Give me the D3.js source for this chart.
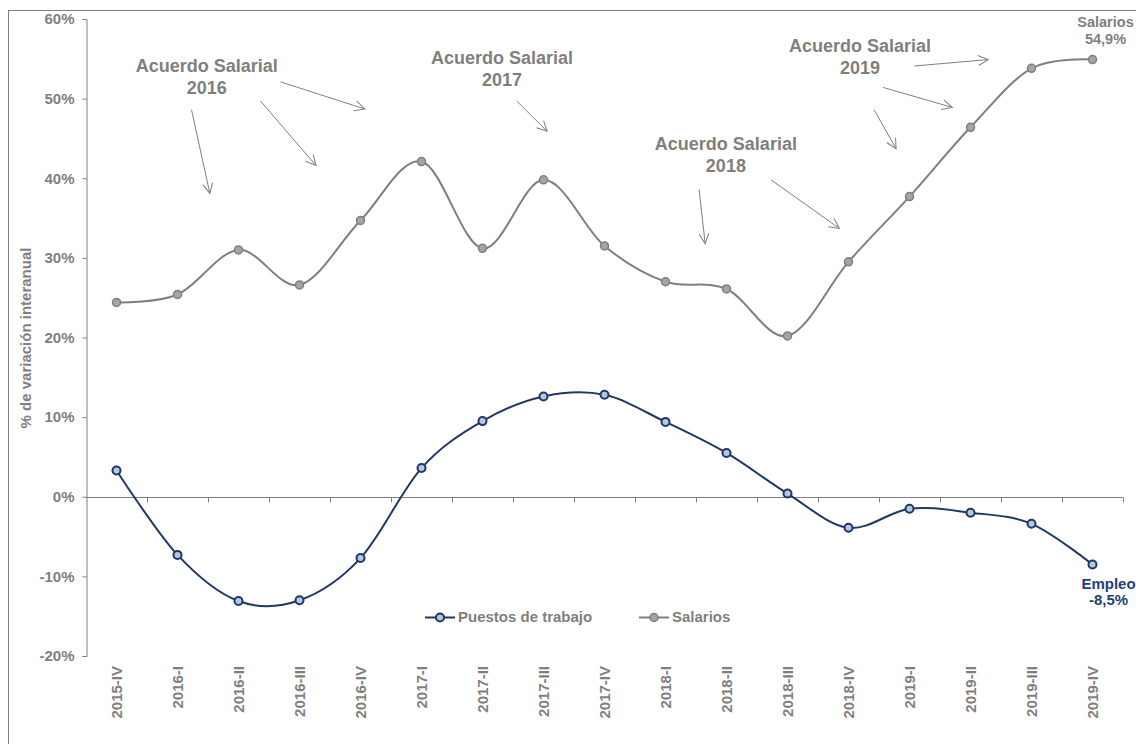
<!DOCTYPE html>
<html>
<head>
<meta charset="utf-8">
<script src="https://cdn.jsdelivr.net/npm/d3@7"></script>
<style>
  html, body { margin: 0; padding: 0; background: #fff; }
  svg { display: block; font-family: "Liberation Sans", Arial, sans-serif; }
</style>
</head>
<body>
<svg id="chart" width="1136" height="744"></svg>
<script>
// Quarters
const quarters = ["2015-IV","2016-I","2016-II","2016-III","2016-IV","2017-I","2017-II","2017-III",
  "2017-IV","2018-I","2018-II","2018-III","2018-IV","2019-I","2019-II","2019-III","2019-IV"];

// Year-on-year change (%)
const puestos = [3.3, -7.3, -13.1, -13.0, -7.7, 3.6, 9.5, 12.6, 12.8, 9.4, 5.5, 0.4, -3.9, -1.5, -2.0, -3.4, -8.5];
const salarios = [24.4, 25.4, 31.0, 26.6, 34.7, 42.1, 31.2, 39.8, 31.5, 27.0, 26.1, 20.2, 29.5, 37.7, 46.4, 53.8, 54.9];

const yTicks = [-20, -10, 0, 10, 20, 30, 40, 50, 60];

// Wage-agreement callouts: label anchor and arrows, in (quarter index, %) units
const acuerdos = [
  { label: ["Acuerdo Salarial", "2016"], at: [1.48, 53.3],
    arrows: [[[1.23, 48.6], [1.53, 38.1]], [[2.36, 49.7], [3.27, 41.6]], [[2.69, 52.1], [4.07, 48.7]]] },
  { label: ["Acuerdo Salarial", "2017"], at: [6.32, 54.3],
    arrows: [[[6.56, 49.7], [7.06, 45.9]]] },
  { label: ["Acuerdo Salarial", "2018"], at: [9.99, 43.6],
    arrows: [[[9.55, 38.6], [9.65, 31.8]], [[10.73, 39.8], [11.85, 33.7]]] },
  { label: ["Acuerdo Salarial", "2019"], at: [12.19, 55.8],
    arrows: [[[13.08, 54.1], [14.29, 54.9]], [[12.57, 51.4], [13.70, 48.9]], [[12.42, 48.6], [12.78, 43.7]]] }
];

const GRAY = "#7f7f7f";
const NAVY = "#1f3864";

const svg = d3.select("#chart");

// frame
svg.append("rect").attr("x", 8.5).attr("y", 10.5).attr("width", 1140).attr("height", 760)
  .attr("fill", "none").attr("stroke", GRAY).attr("stroke-width", 1);

const x = d3.scaleBand().domain(quarters).range([86, 1123]).padding(0);
const cx = q => x(q) + x.bandwidth() / 2;
const xi = d3.scaleLinear().domain([0, quarters.length - 1]).range([cx(quarters[0]), cx(quarters[quarters.length - 1])]);
const y = d3.scaleLinear().domain([-20, 60]).range([656, 19]);

// y axis
const yAxis = svg.append("g").attr("transform", "translate(86.5,0)")
  .call(d3.axisLeft(y).tickValues(yTicks).tickSize(4).tickPadding(8).tickFormat(d => d + "%"));
yAxis.select(".domain").attr("stroke", GRAY);
yAxis.selectAll(".tick line").attr("stroke", GRAY);
yAxis.selectAll("text").attr("fill", GRAY).attr("font-size", 15).attr("font-weight", "bold")
  .attr("font-family", "Liberation Sans, Arial, sans-serif");

// y title
svg.append("text")
  .attr("transform", "translate(31,338) rotate(-90)")
  .attr("text-anchor", "middle")
  .attr("fill", GRAY).attr("font-size", 15).attr("font-weight", "bold")
  .text("% de variación interanual");

// zero line with category ticks
const y0 = Math.round(y(0)) + 0.5;
svg.append("line").attr("x1", 86).attr("x2", 1123).attr("y1", y0).attr("y2", y0)
  .attr("stroke", GRAY).attr("stroke-width", 1);
const bounds = quarters.map(q => x(q)).concat([x.range()[1]]);
svg.append("g").selectAll("line").data(bounds.slice(1)).join("line")
  .attr("x1", d => Math.round(d) + 0.5).attr("x2", d => Math.round(d) + 0.5)
  .attr("y1", y0).attr("y2", y0 + 5).attr("stroke", GRAY);

// category labels
svg.append("g").selectAll("text").data(quarters).join("text")
  .attr("transform", d => `translate(${cx(d)},666) rotate(-90)`)
  .attr("text-anchor", "end").attr("dy", "0.35em")
  .attr("fill", GRAY).attr("font-size", 15).attr("font-weight", "bold")
  .text(d => d);

// arrowhead
svg.append("defs").append("marker")
  .attr("id", "arrow").attr("markerUnits", "userSpaceOnUse")
  .attr("viewBox", "0 0 12 12").attr("refX", 11).attr("refY", 6)
  .attr("markerWidth", 12).attr("markerHeight", 12).attr("orient", "auto")
  .append("path").attr("d", "M1,1 L11,6 L1,11").attr("fill", "none")
  .attr("stroke", GRAY).attr("stroke-width", 1);

// callouts
const ann = svg.append("g");
acuerdos.forEach(a => {
  const t = ann.append("text")
    .attr("x", xi(a.at[0])).attr("y", y(a.at[1]))
    .attr("text-anchor", "middle").attr("fill", GRAY)
    .attr("font-size", 18).attr("font-weight", "bold");
  a.label.forEach((s, i) => t.append("tspan").attr("x", xi(a.at[0])).attr("dy", i ? 22 : 0).text(s));
  a.arrows.forEach(([p, q]) => {
    ann.append("line")
      .attr("x1", xi(p[0])).attr("y1", y(p[1])).attr("x2", xi(q[0])).attr("y2", y(q[1]))
      .attr("stroke", GRAY).attr("stroke-width", 1).attr("marker-end", "url(#arrow)");
  });
});

// series
const series = [
  { name: "Puestos de trabajo", values: puestos, stroke: NAVY, fill: "#b4c7e7", mw: 2 },
  { name: "Salarios", values: salarios, stroke: GRAY, fill: "#a5a5a5", mw: 1.5 }
];
const line = d3.line().x((d, i) => cx(quarters[i])).y(d => y(d)).curve(d3.curveCardinal.tension(0));

series.forEach(s => {
  const g = svg.append("g");
  g.append("path").attr("d", line(s.values)).attr("fill", "none")
    .attr("stroke", s.stroke).attr("stroke-width", 2);
  g.selectAll("circle").data(s.values).join("circle")
    .attr("cx", (d, i) => cx(quarters[i])).attr("cy", d => y(d)).attr("r", 4)
    .attr("fill", s.fill).attr("stroke", s.stroke).attr("stroke-width", s.mw);
});

// end labels (decimal comma, plain hyphen for negatives)
const fmt = v => (v < 0 ? "-" : "") + d3.format(".1f")(Math.abs(v)).replace(".", ",") + "%";
const last = quarters.length - 1;
const endLabel = (lines, px, py, color, size, gap) => {
  const t = svg.append("text").attr("text-anchor", "middle").attr("fill", color)
    .attr("font-size", size).attr("font-weight", "bold");
  lines.forEach((s, i) => t.append("tspan").attr("x", px).attr("y", py + i * gap).text(s));
};
endLabel(["Salarios", fmt(salarios[last])], cx(quarters[last]) + 13, y(salarios[last]) - 33, GRAY, 14.5, 17);
endLabel(["Empleo", fmt(puestos[last])], cx(quarters[last]) + 16, y(puestos[last]) + 25, "#23407a", 15, 16);

// legend
const legend = svg.append("g").attr("transform", "translate(0,617)");
const legItems = [{ s: series[0], x0: 425 }, { s: series[1], x0: 639 }];
legItems.forEach(({ s, x0 }) => {
  legend.append("line").attr("x1", x0).attr("x2", x0 + 30).attr("y1", 0.5).attr("y2", 0.5)
    .attr("stroke", s.stroke).attr("stroke-width", 2);
  legend.append("circle").attr("cx", x0 + 15).attr("cy", 0.5).attr("r", 4)
    .attr("fill", s.fill).attr("stroke", s.stroke).attr("stroke-width", s.mw);
  legend.append("text").attr("x", x0 + 33).attr("y", 0).attr("dy", "0.35em")
    .attr("fill", GRAY).attr("font-size", 15).attr("font-weight", "bold").text(s.name);
});
</script>
</body>
</html>
